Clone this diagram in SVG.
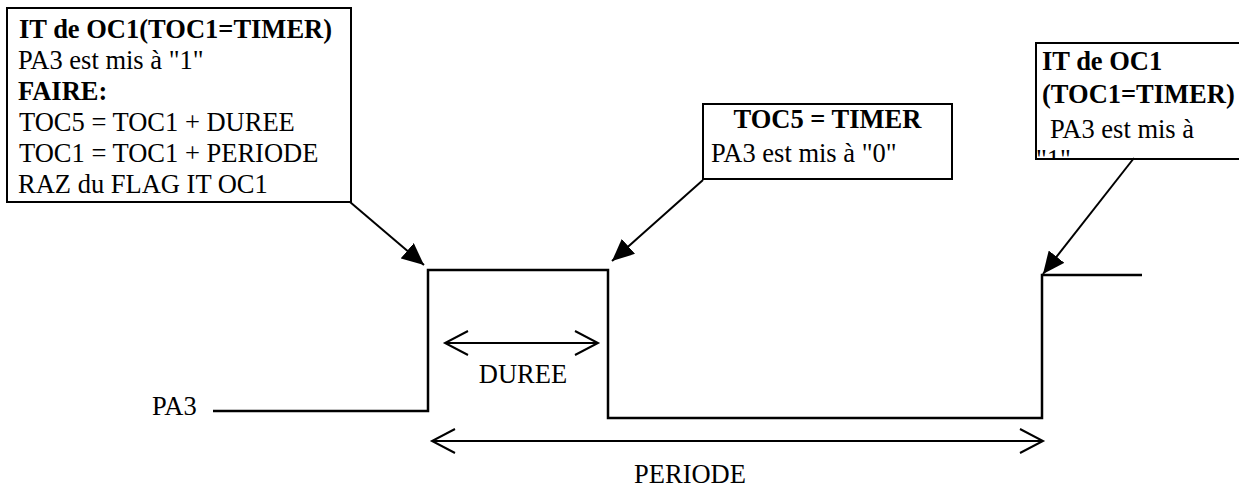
<svg xmlns="http://www.w3.org/2000/svg" width="1239" height="488" viewBox="0 0 1239 488">
<style>
.box{fill:#fff;stroke:#000;stroke-width:2}
.t{font-family:"Liberation Serif","Times New Roman",serif;font-size:26.5px;fill:#000}
.b{font-weight:bold}
.wave{fill:none;stroke:#000;stroke-width:2.5}
.conn{fill:none;stroke:#000;stroke-width:2}
.dim{fill:none;stroke:#000;stroke-width:2}
</style>
<defs>
<marker id="ah" markerUnits="userSpaceOnUse" markerWidth="24" markerHeight="20" refX="22" refY="10" orient="auto">
<path d="M0,0 L22,10 L0,20 z" fill="#000"/>
</marker>
<clipPath id="c3"><rect x="1036" y="43" width="210" height="116"/></clipPath>
</defs>
<rect width="1239" height="488" fill="#fff"/>

<g id="box1">
<rect class="box" x="7" y="8" width="344" height="194"/>
<text class="t b" x="19" y="38">IT de OC1(TOC1=TIMER)</text>
<text class="t" x="18" y="69">PA3 est mis à "1"</text>
<text class="t b" x="18" y="100">FAIRE:</text>
<text class="t" x="19" y="131">TOC5 = TOC1 + DUREE</text>
<text class="t" x="19" y="162">TOC1 = TOC1 + PERIODE</text>
<text class="t" x="18" y="193">RAZ du FLAG IT OC1</text>
</g>

<g id="box2">
<rect class="box" x="703" y="104" width="249" height="75"/>
<text class="t b" x="827.5" y="128" text-anchor="middle">TOC5 = TIMER</text>
<text class="t" x="711" y="162">PA3 est mis à "0"</text>
</g>

<g id="box3">
<rect class="box" x="1036" y="43" width="210" height="116"/>
<g clip-path="url(#c3)">
<text class="t b" x="1042" y="70">IT de OC1</text>
<text class="t b" x="1042" y="103">(TOC1=TIMER)</text>
<text class="t" x="1050" y="138">PA3 est mis à</text>
<text class="t" x="1036" y="168">"1"</text>
</g>
</g>

<g id="signal">
<text class="t" x="152" y="415">PA3</text>
<path class="wave" d="M213,411 H428 V270 H608 V418 H1042 V275 H1142"/>
</g>

<g id="duree">
<path class="dim" d="M445,343 H598 M468,331 L445,343 L468,355 M575,331 L598,343 L575,355"/>
<text class="t" x="523" y="383" text-anchor="middle">DUREE</text>
</g>

<g id="periode">
<path class="dim" d="M432,441 H1043 M455,429 L432,441 L455,453 M1020,429 L1043,441 L1020,453"/>
<text class="t" x="690" y="483" text-anchor="middle">PERIODE</text>
</g>

<g id="connectors">
<line class="conn" x1="350" y1="202" x2="424" y2="265" marker-end="url(#ah)"/>
<line class="conn" x1="703" y1="180" x2="612" y2="261" marker-end="url(#ah)"/>
<line class="conn" x1="1134" y1="158" x2="1043" y2="274" marker-end="url(#ah)"/>
</g>
</svg>
